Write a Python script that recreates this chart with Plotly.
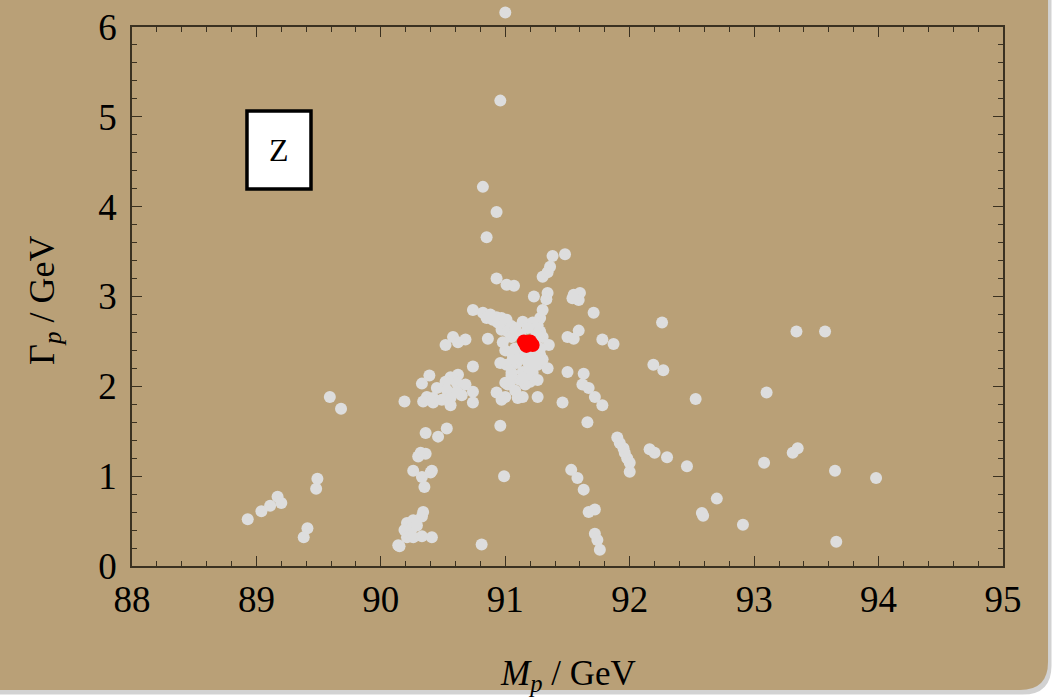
import plotly.graph_objects as go

# Gray scan points (M_p [GeV], Gamma_p [GeV])
mass_gray = [
    91.00, 90.96, 90.82, 90.93, 90.85, 91.38, 91.48, 91.36, 91.34, 91.30,
    90.93, 91.01, 91.07, 91.23, 91.34, 91.33, 91.55, 91.60, 91.59, 91.54,
    91.71, 91.30, 91.28, 91.26, 90.74, 90.82, 90.88, 90.93, 90.97, 91.01,
    90.85, 90.90, 90.94, 90.98, 91.05, 91.14, 91.22, 90.97, 91.02, 91.08,
    91.18, 91.28, 91.30, 90.86, 90.98, 91.35, 91.26, 90.58, 90.68, 90.52,
    90.62, 91.50, 91.59, 91.55, 91.78, 91.87, 91.05, 91.12, 91.20, 91.28,
    91.09, 91.18, 91.01, 91.26, 91.34, 91.05, 91.14, 91.22, 91.04, 91.12,
    91.20, 91.26, 91.02, 91.16, 90.74, 91.50, 91.63, 90.93, 91.00, 91.10,
    91.14, 91.26, 90.74, 90.74, 91.46, 91.62, 91.67, 91.72, 91.78, 91.66,
    90.96, 90.99, 90.81, 91.53, 91.58, 91.63, 91.67, 91.72, 91.72, 91.74,
    91.76, 91.90, 91.92, 91.95, 91.96, 91.98, 92.00, 92.00, 92.16, 92.20,
    92.30, 92.26, 92.19, 92.27, 92.53, 93.10, 93.34, 93.57, 92.46, 93.08,
    93.31, 93.35, 93.65, 93.98, 92.70, 92.58, 92.59, 92.91, 93.66, 89.59,
    89.68, 89.49, 89.48, 89.17, 89.20, 89.11, 89.04, 88.93, 89.41, 89.38,
    90.14, 90.32, 90.36, 90.30, 90.26, 90.41, 90.40, 90.33, 90.35, 90.34,
    90.33, 90.26, 90.21, 90.19, 90.25, 90.29, 90.21, 90.26, 90.33, 90.41,
    90.15, 90.19, 90.39, 90.33, 90.56, 90.62, 90.52, 90.61, 90.68, 90.45,
    90.53, 90.61, 90.65, 90.37, 90.42, 90.49, 90.56, 90.34, 90.42, 90.56,
    90.36, 90.46, 90.53, 90.96, 91.00, 90.97, 91.10, 91.06, 91.16, 91.22,
    91.05, 91.12, 91.25, 91.08, 91.28, 91.00, 91.10, 91.24, 91.05, 91.15,
    91.30, 91.20, 91.08,
]
width_gray = [
    6.16, 5.18, 4.22, 3.94, 3.66, 3.45, 3.47, 3.33, 3.27, 3.22,
    3.20, 3.13, 3.12, 3.00, 3.04, 2.97, 3.02, 3.04, 2.96, 2.98,
    2.82, 2.85, 2.76, 2.68, 2.85, 2.82, 2.80, 2.77, 2.76, 2.74,
    2.76, 2.74, 2.71, 2.68, 2.67, 2.72, 2.71, 2.63, 2.61, 2.65,
    2.65, 2.61, 2.55, 2.53, 2.49, 2.46, 2.54, 2.55, 2.52, 2.46,
    2.49, 2.55, 2.62, 2.53, 2.52, 2.47, 2.37, 2.35, 2.37, 2.35,
    2.26, 2.27, 2.24, 2.24, 2.20, 2.15, 2.16, 2.15, 2.05, 2.07,
    2.05, 2.07, 2.02, 2.02, 2.22, 2.16, 2.14, 1.93, 1.88, 1.87,
    1.88, 1.88, 1.94, 1.82, 1.82, 2.02, 1.98, 1.88, 1.79, 1.60,
    1.56, 1.00, 0.24, 1.07, 0.98, 0.85, 0.60, 0.63, 0.36, 0.29,
    0.18, 1.43, 1.37, 1.31, 1.26, 1.20, 1.15, 1.05, 1.30, 1.26,
    1.21, 2.71, 2.24, 2.18, 1.86, 1.93, 2.61, 2.61, 1.11, 1.15,
    1.26, 1.31, 1.06, 0.98, 0.75, 0.59, 0.56, 0.46, 0.27, 1.88,
    1.75, 0.97, 0.86, 0.77, 0.70, 0.67, 0.61, 0.52, 0.42, 0.32,
    0.23, 1.26, 1.25, 1.22, 1.06, 1.06, 1.04, 0.99, 0.88, 0.60,
    0.55, 0.51, 0.48, 0.40, 0.42, 0.45, 0.32, 0.32, 0.33, 0.32,
    0.22, 1.83, 2.12, 2.03, 2.10, 2.13, 2.05, 2.04, 2.02, 1.98,
    1.96, 1.94, 1.90, 1.88, 1.87, 1.85, 1.87, 1.83, 1.82, 1.79,
    1.48, 1.44, 1.53, 2.26, 2.04, 1.85, 2.40, 2.30, 2.40, 2.30,
    2.55, 2.58, 2.58, 2.42, 2.42, 2.40, 2.30, 2.30, 2.12, 2.10,
    2.30, 2.20, 1.95,
]

# Red best-fit points
mass_red = [91.15, 91.20, 91.17, 91.22, 91.19, 91.16]
width_red = [2.50, 2.50, 2.45, 2.46, 2.47, 2.48]

x_ticks = [88, 89, 90, 91, 92, 93, 94, 95]
y_ticks = [0, 1, 2, 3, 4, 5, 6]

X_RANGE = [88, 95]
Y_MAX = 6.0
Y_EXT = 6.3   # extended (invisible) axis so the outlier above the frame stays visible

TAN = "#b9a077"
AXC = "#3a3121"
FONT = "Liberation Serif"

fig = go.Figure()
# invisible anchor trace so the framed subplot (x, y) is drawn
fig.add_trace(go.Scatter(x=[X_RANGE[0]], y=[0], mode="markers", xaxis="x", yaxis="y",
                         marker=dict(opacity=0), showlegend=False, hoverinfo="skip"))
fig.add_trace(go.Scatter(
    x=mass_gray, y=width_gray, mode="markers", xaxis="x2", yaxis="y2",
    marker=dict(size=12, color="#dddddd", line=dict(width=0)),
    cliponaxis=False, showlegend=False, hoverinfo="x+y",
))
fig.add_trace(go.Scatter(
    x=mass_red, y=width_red, mode="markers", xaxis="x2", yaxis="y2",
    marker=dict(size=14, color="#ff0000", line=dict(width=0)),
    cliponaxis=False, showlegend=False, hoverinfo="x+y",
))

axis_common = dict(
    showgrid=False, zeroline=False, showline=True, linecolor=AXC, linewidth=1.5,
    mirror="ticks", ticks="inside", ticklen=10, tickwidth=1.3, tickcolor=AXC,
    tickfont=dict(family=FONT, size=37, color="black"), automargin=False,
    minor=dict(ticks="inside", ticklen=5, tickwidth=1, tickcolor=AXC, dtick=0.2),
)

fig.update_layout(
    xaxis=dict(range=X_RANGE, tickvals=x_ticks, ticktext=[str(v) for v in x_ticks],
               anchor="y", domain=[0, 1], **axis_common),
    yaxis=dict(range=[0, Y_MAX], tickvals=y_ticks, ticktext=[str(v) for v in y_ticks],
               domain=[0, Y_MAX / Y_EXT], anchor="x", ticklabelstandoff=6, **axis_common),
    xaxis2=dict(range=X_RANGE, domain=[0, 1], anchor="y2", visible=False,
                showgrid=False, zeroline=False, automargin=False),
    yaxis2=dict(range=[0, Y_EXT], domain=[0, 1], anchor="x2", visible=False,
                showgrid=False, zeroline=False, automargin=False),
)

# Background (tan card with rounded bottom-right corner), paper coords
x0, x1, xr = -0.17, 1.0517, 1.0195
yt, yb, yc = 1.05, -0.2191, -0.1696
shadow = (f"M {x0},{yt} L {x1+0.004},{yt} L {x1+0.004},{yc-0.006} "
          f"Q {x1+0.004},{yb-0.008} {xr+0.003},{yb-0.008} L {x0},{yb-0.008} Z")
card = f"M {x0},{yt} L {x1},{yt} L {x1},{yc} Q {x1},{yb} {xr},{yb} L {x0},{yb} Z"

fig.update_layout(
    width=1056, height=699,
    margin=dict(l=132, r=53, t=0, b=133, autoexpand=False),
    paper_bgcolor="white",
    plot_bgcolor="rgba(0,0,0,0)",
    shapes=[
        dict(type="path", path=shadow, xref="paper", yref="paper", layer="below",
             fillcolor="#d2d2d2", line=dict(width=0)),
        dict(type="path", path=card, xref="paper", yref="paper", layer="below",
             fillcolor=TAN, line=dict(width=0)),
        dict(type="rect", xref="paper", yref="paper", x0=0.132, x1=0.2055, y0=0.6661, y1=0.8039,
             fillcolor="white", line=dict(color="black", width=3.5)),
    ],
    annotations=[
        dict(text="Z", x=0.1688, y=0.735, xref="paper", yref="paper", showarrow=False,
             font=dict(family=FONT, size=32, color="black"), xanchor="center", yanchor="middle"),
        dict(text="<i>M</i><sub><i>p</i></sub> / GeV", x=0.5, y=-0.1926, xref="paper", yref="paper",
             showarrow=False, font=dict(family=FONT, size=35, color="black"),
             xanchor="center", yanchor="middle"),
        dict(text="Γ<sub><i>p</i></sub> / GeV", x=-0.1, y=0.47, xref="paper", yref="paper",
             showarrow=False, textangle=-90, font=dict(family=FONT, size=36, color="black"),
             xanchor="center", yanchor="middle"),
    ],
)

fig.write_html("out.html", config={"displayModeBar": False},
               post_script="document.body.style.margin='0';document.body.style.overflow='hidden';")
